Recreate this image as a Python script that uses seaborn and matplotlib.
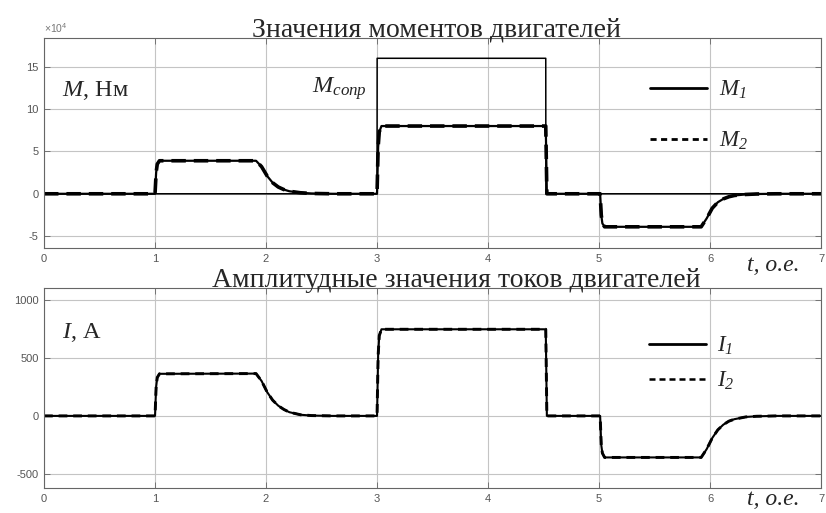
import numpy as np
import pandas as pd
import matplotlib
matplotlib.use('Agg')
import matplotlib.pyplot as plt
import seaborn as sns
from matplotlib.lines import Line2D
from matplotlib.ticker import FuncFormatter

# Время, о.е. (точки)
t_pts = [0, 1.0, 1.01, 1.02, 1.04, 1.91, 1.96, 2.01, 2.06, 2.11, 2.16, 2.21, 2.31, 2.41, 2.6,
         3.0, 3.01, 3.02, 3.04, 4.52, 4.53, 5.01, 5.02, 5.03, 5.05, 5.92, 5.97, 6.02, 6.07,
         6.12, 6.17, 6.22, 6.32, 6.42, 6.6, 7.0]

# Моменты двигателей, Нм
m1 = [0, 0, 25000, 35000, 39000, 39000, 32000, 21000, 13000, 8000, 5000, 3000, 1200, 400, 0,
      0, 55000, 73000, 80000, 80000, 0, 0, -25000, -35000, -39000, -39000, -29000, -17000,
      -10000, -6000, -3500, -2000, -800, -250, 0, 0]
m2 = list(m1)

# Момент сопротивления
t_load = [0, 3.0, 3.001, 4.52, 4.521, 7.0]
m_load = [0, 0, 160000, 160000, 0, 0]

# Амплитуды токов, А
i1 = [0, 0, 250, 330, 362, 364, 300, 205, 135, 88, 56, 32, 10, 3, 0,
      0, 520, 690, 745, 745, 0, 0, -250, -320, -357, -357, -285, -190,
      -120, -75, -45, -28, -9, -3, 0, 0]
i2 = list(i1)

sns.set_style('ticks')
plt.rcParams['font.family'] = ['Liberation Sans', 'DejaVu Sans']
plt.rcParams['axes.unicode_minus'] = False
plt.rcParams['mathtext.fontset'] = 'custom'
plt.rcParams['mathtext.rm'] = 'Liberation Serif'
plt.rcParams['mathtext.it'] = 'Liberation Serif:italic'
plt.rcParams['mathtext.sf'] = 'Liberation Serif:italic'
plt.rcParams['mathtext.bf'] = 'Liberation Sans'
plt.rcParams['mathtext.default'] = 'it'

serif = ['Liberation Serif', 'DejaVu Serif']
grey = '#555555'

fig = plt.figure(figsize=(8.26, 5.13), dpi=100)
ax1 = fig.add_axes([0.0533, 0.5166, 0.9407, 0.4094])
ax2 = fig.add_axes([0.0533, 0.0487, 0.9407, 0.3899])

df_m = pd.DataFrame({'t': t_pts, 'M1': m1, 'M2': m2})
df_load = pd.DataFrame({'t': t_load, 'M': m_load})
df_i = pd.DataFrame({'t': t_pts, 'I1': i1, 'I2': i2})

# --- моменты ---
sns.lineplot(data=df_load, x='t', y='M', ax=ax1, color='black', lw=1.1,
             estimator=None, sort=False)
sns.lineplot(data=df_m, x='t', y='M1', ax=ax1, color='black', lw=1.6,
             estimator=None, sort=False)
sns.lineplot(data=df_m, x='t', y='M2', ax=ax1, color='black', lw=2.6,
             estimator=None, sort=False)
ax1.lines[-1].set_dashes((4, 2.2))

# --- токи ---
sns.lineplot(data=df_i, x='t', y='I1', ax=ax2, color='black', lw=1.5,
             estimator=None, sort=False)
sns.lineplot(data=df_i, x='t', y='I2', ax=ax2, color='black', lw=2.1,
             estimator=None, sort=False)
ax2.lines[-1].set_dashes((3, 2))

ax1.set_ylim(-64000, 184000)
ax1.set_yticks([-50000, 0, 50000, 100000, 150000])
ax1.yaxis.set_major_formatter(FuncFormatter(lambda v, p: f'{v / 1e4:g}'))
ax1.text(0.0, 1.015, r'$\mathbf{×10^{4}}$', transform=ax1.transAxes, fontsize=7.5,
         color='#777777', ha='left', va='bottom')

ax2.set_ylim(-620, 1100)
ax2.set_yticks([-500, 0, 500, 1000])

for ax in (ax1, ax2):
    ax.set_xlim(0, 7)
    ax.set_xticks(range(8))
    ax.set_xlabel('')
    ax.set_ylabel('')
    ax.grid(True, color='#c4c4c4', lw=0.8)
    ax.tick_params(direction='in', top=True, right=True, length=4, width=0.6,
                   color='#666666', labelcolor=grey, labelsize=8, pad=4)
    for s in ax.spines.values():
        s.set_color('#666666')
        s.set_linewidth(0.8)
        s.set_visible(True)

ax1.set_title('Значения моментов двигателей', fontsize=20, family=serif,
              x=0.505, pad=1)
ax2.set_title('Амплитудные значения токов двигателей', fontsize=20, family=serif,
              x=0.530, pad=1)

ax1.text(0.023, 0.75, '$M$, Нм', transform=ax1.transAxes, fontsize=17.5,
         family=serif, va='center', ha='left')
ax1.text(0.345, 0.76, r'$M_{сопр}$', transform=ax1.transAxes, fontsize=17.5,
         family=serif, va='center', ha='left')
ax2.text(0.023, 0.78, '$I$, А', transform=ax2.transAxes, fontsize=17.5,
         family=serif, va='center', ha='left')

for ax, y in ((ax1, -0.085), (ax2, -0.055)):
    ax.text(0.905, y, 't, о.е.', transform=ax.transAxes, fontsize=17,
            family=serif, style='italic', va='center', ha='left')

h_solid = Line2D([], [], color='black', lw=2.0)
h_dash1 = Line2D([], [], color='black', lw=2.0, dashes=(2.2, 1.6))
h_dash2 = Line2D([], [], color='black', lw=1.8, dashes=(2.4, 1.6))

ax1.legend([h_solid, h_dash1], [r'$M_{\mathsf{1}}$', r'$M_{\mathsf{2}}$'], loc='upper left',
           bbox_to_anchor=(0.78, 0.81), frameon=False, fontsize=16.5,
           handlelength=2.5, handletextpad=0.5, labelspacing=1.2,
           borderpad=0, borderaxespad=0)
ax2.legend([h_solid, h_dash2], [r'$I_{\mathsf{1}}$', r'$I_{\mathsf{2}}$'], loc='upper left',
           bbox_to_anchor=(0.778, 0.77), frameon=False, fontsize=16.5,
           handlelength=2.5, handletextpad=0.5, labelspacing=0.5,
           borderpad=0, borderaxespad=0)

fig.savefig('out.png', dpi=100)
